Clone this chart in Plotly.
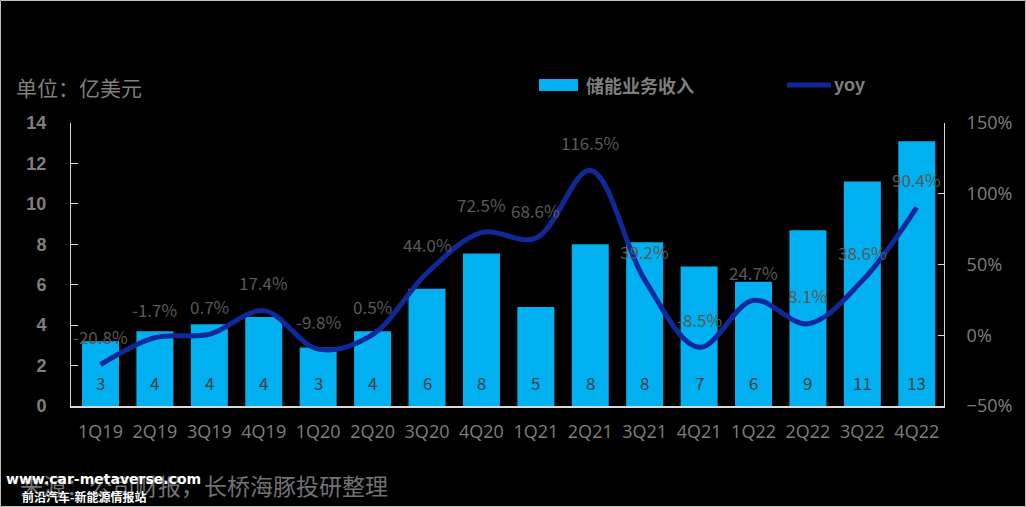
import plotly.graph_objects as go

quarters = ["1Q19", "2Q19", "3Q19", "4Q19", "1Q20", "2Q20", "3Q20", "4Q20",
            "1Q21", "2Q21", "3Q21", "4Q21", "1Q22", "2Q22", "3Q22", "4Q22"]
revenue = [3.2, 3.7, 4.05, 4.4, 2.9, 3.7, 5.8, 7.55, 4.9, 8.0, 8.1, 6.9, 6.15, 8.7, 11.1, 13.1]
revenue_labels = ["3", "4", "4", "4", "3", "4", "6", "8", "5", "8", "8", "7", "6", "9", "11", "13"]
yoy = [-20.8, -1.7, 0.7, 17.4, -9.8, 0.5, 44.0, 72.5, 68.6, 116.5, 39.2, -8.5, 24.7, 8.1, 38.6, 90.4]
series_names = ["储能业务收入", "yoy"]

BAR = "#00b0f0"
LINE = "#10299a"
GRAY = "#7f7f7f"
LABEL = "#595959"
FONT = "Noto Sans CJK SC, Noto Sans, sans-serif"

W, H = 1026, 507
L, R, T, B = 71, 82, 123, 101
pw, ph = W - L - R, H - T - B

fig = go.Figure()
fig.add_trace(go.Bar(x=quarters, y=revenue, name=series_names[0], marker_color=BAR,
                     marker_line_width=0, width=0.68, yaxis="y"))
fig.add_trace(go.Scatter(x=quarters, y=yoy, name=series_names[1], mode="lines",
                         line=dict(color=LINE, width=5, shape="spline", smoothing=1.0),
                         yaxis="y2"))

ann = []
for q, v, t in zip(quarters, revenue, revenue_labels):
    ann.append(dict(x=q, y=0, xref="x", yref="y", text=t, showarrow=False,
                    yshift=24, yanchor="middle", font=dict(size=17, color="#404040", family=FONT)))
for q, v in zip(quarters, yoy):
    ann.append(dict(x=q, y=v, xref="x", yref="y2", text=f"{v:.1f}%", showarrow=False,
                    yshift=28, yanchor="middle", font=dict(size=17, color=LABEL, family=FONT)))


def px(x):
    return (x - L) / pw


def py(y):
    return (H - B - y) / ph


ann.append(dict(x=px(14), y=py(87), xref="paper", yref="paper", xanchor="left", yanchor="middle",
                text="单位：亿美元", showarrow=False, font=dict(size=21, color=GRAY, family=FONT)))
ann.append(dict(x=px(18), y=py(485), xref="paper", yref="paper", xanchor="left", yanchor="middle",
                text="来源：公司财报，长桥海豚投研整理", showarrow=False,
                font=dict(size=23, color="#737373", family=FONT)))
ann.append(dict(x=px(4), y=py(479), xref="paper", yref="paper", xanchor="left", yanchor="middle",
                text="<b>www.car-metaverse.com</b>", showarrow=False,
                font=dict(size=14, color="white", family="DejaVu Sans, sans-serif")))
ann.append(dict(x=px(20), y=py(496), xref="paper", yref="paper", xanchor="left", yanchor="middle",
                text="<b>前沿汽车-新能源情报站</b>", showarrow=False,
                font=dict(size=12, color="white", family=FONT)))
# manual legend
ann.append(dict(x=px(584), y=py(85), xref="paper", yref="paper", xanchor="left", yanchor="middle",
                text=f"<b>{series_names[0]}</b>", showarrow=False,
                font=dict(size=18, color=GRAY, family=FONT)))
ann.append(dict(x=px(832), y=py(85), xref="paper", yref="paper", xanchor="left", yanchor="middle",
                text=f"<b>{series_names[1]}</b>", showarrow=False,
                font=dict(size=18, color=GRAY, family="Liberation Sans, Arial, sans-serif")))

shapes = [
    dict(type="rect", xref="paper", yref="paper", x0=px(0.5), x1=px(W - 0.5),
         y0=py(H - 0.5), y1=py(0.5), line=dict(color="#bfbfbf", width=1)),
    dict(type="rect", xref="paper", yref="paper", x0=px(539), x1=px(578),
         y0=py(91), y1=py(79), fillcolor=BAR, line=dict(width=0)),
    dict(type="line", xref="paper", yref="paper", x0=px(787), x1=px(831),
         y0=py(85), y1=py(85), line=dict(color=LINE, width=5)),
]

fig.update_layout(
    width=W, height=H,
    margin=dict(l=L, r=R, t=T, b=B, autoexpand=False),
    paper_bgcolor="black", plot_bgcolor="black",
    showlegend=False,
    xaxis=dict(type="category", showgrid=False, showline=True, linecolor="#d9d9d9", linewidth=2,
               ticks="", tickangle=0, tickfont=dict(size=18, color=GRAY, family="Open Sans, sans-serif"),
               ticklabelstandoff=8),
    yaxis=dict(range=[0, 14], dtick=2, showgrid=False, showline=True, linecolor="#d9d9d9",
               linewidth=1, ticks="inside", ticklen=7, tickcolor="#d9d9d9", zeroline=False,
               tickfont=dict(size=18, color=GRAY, family="Liberation Sans, Arial, sans-serif", weight="bold"),
               ticklabelstandoff=20),
    yaxis2=dict(range=[-50, 150], dtick=50, overlaying="y", side="right", showgrid=False,
                showline=True, linecolor="#d9d9d9", linewidth=1, ticks="inside", ticklen=6,
                tickcolor="#d9d9d9", zeroline=False, ticksuffix="%",
                tickfont=dict(size=18, color=GRAY, family="Open Sans, sans-serif"),
                ticklabelstandoff=18),
    annotations=ann,
    shapes=shapes,
)

fig.write_html("out.html", config={"displayModeBar": False},
               post_script="document.body.style.margin='0px';document.body.style.background='black';")
